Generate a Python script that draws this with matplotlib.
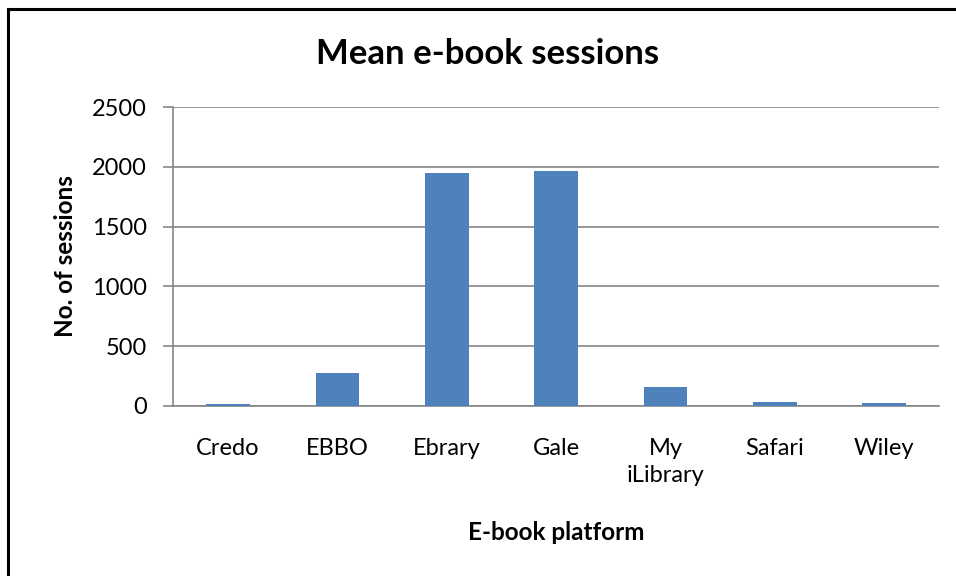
import matplotlib
matplotlib.use('Agg')
import matplotlib.pyplot as plt
from matplotlib.patches import Rectangle

platforms = ['Credo', 'EBBO', 'Ebrary', 'Gale', 'My\niLibrary', 'Safari', 'Wiley']
sessions = [16, 276, 1948, 1963, 161, 33, 23]
yticks = [0, 500, 1000, 1500, 2000, 2500]

plt.rcParams['font.family'] = ['Lato', 'DejaVu Sans']

fig = plt.figure(figsize=(9.56, 5.76), dpi=100)
ax = fig.add_axes([173.3/956, 1-406/576, (939-173.3)/956, (406-107)/576])

x = range(len(platforms))
ax.bar(x, sessions, width=0.4, color='#4F81BD', zorder=3)

ax.set_xlim(-0.5, len(platforms)-0.5)
ax.set_ylim(0, 2500)
ax.set_yticks(yticks)
ax.set_yticklabels([str(v) for v in yticks], fontsize=17)
ax.set_xticks(list(x))
ax.set_xticklabels(platforms, fontsize=17, linespacing=1.35)
ax.tick_params(axis='x', length=0, pad=23)
ax.tick_params(axis='y', length=7, color='#868686', width=1.2, pad=12)

ax.grid(axis='y', color='#868686', linewidth=1.2, zorder=0)
for s in ['top', 'right']:
    ax.spines[s].set_visible(False)
for s in ['left', 'bottom']:
    ax.spines[s].set_color('#868686')
    ax.spines[s].set_linewidth(1.2)
    ax.spines[s].set_zorder(2)

ax.set_ylabel('No. of sessions', fontsize=17.5, fontweight='bold', labelpad=11)
ax.set_xlabel('E-book platform', fontsize=17.5, fontweight='bold', labelpad=25)
fig.text(488/956, 1-54/576, 'Mean e-book sessions', fontsize=25, fontweight='bold',
         ha='center', va='center')

# chart area border
fig.patches.append(Rectangle((8/956, -0.1), 1.1, 1-9/576+0.1, transform=fig.transFigure,
                             fill=False, edgecolor='black', linewidth=2.2))

fig.savefig('out.png', dpi=100)
